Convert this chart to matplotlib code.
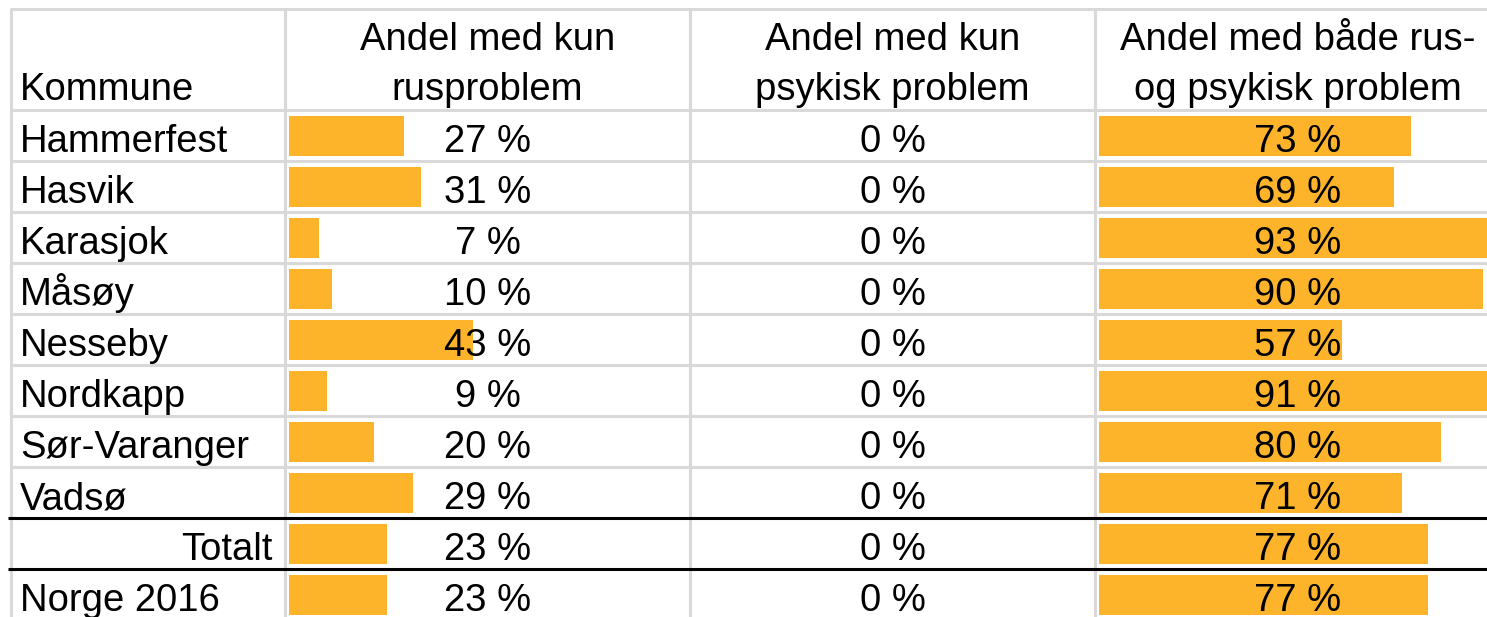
import matplotlib
matplotlib.use("Agg")
import matplotlib.pyplot as plt
import numpy as np

plt.rcParams['font.family'] = ['Liberation Sans', 'DejaVu Sans']

kommuner = ["Hammerfest", "Hasvik", "Karasjok", "Måsøy", "Nesseby",
            "Nordkapp", "Sør-Varanger", "Vadsø", "Totalt", "Norge 2016"]
kun_rus = [27, 31, 7, 10, 43, 9, 20, 29, 23, 23]
kun_psyk = [0, 0, 0, 0, 0, 0, 0, 0, 0, 0]
begge = [73, 69, 93, 90, 57, 91, 80, 71, 77, 77]
headers = ["Kommune", "Andel med kun\nrusproblem", "Andel med kun\npsykisk problem",
           "Andel med både rus-\nog psykisk problem"]

W, H = 1487, 617
fig = plt.figure(figsize=(W / 100, H / 100), dpi=100)
ax = fig.add_axes([0, 0, 1, 1])
ax.set_xlim(0, W)
ax.set_ylim(H, 0)
ax.axis('off')

BAR = '#FDB42A'
GRID = '#D9D9D9'
FS = 27.5
PX_PER_PCT = 4.27

col_edges = [11, 285, 690, 1095, 1500]
header_top, header_bot = 9, 110
row_h = 51
n = len(kommuner)
row_tops = header_bot + row_h * np.arange(n)
row_centers = row_tops + row_h / 2

# grid lines
lw = 2.2
ax.hlines([header_top, header_bot] + list(row_tops[1:8] ) + [row_tops[-1] + row_h],
          col_edges[0] - 1, W, color=GRID, lw=lw, zorder=1)
ax.vlines(col_edges[:4], header_top, H, color=GRID, lw=lw, zorder=1)
ax.hlines([row_tops[8], row_tops[9]], 8, W, color='black', lw=2.2, zorder=4)

# bars
series = [kun_rus, kun_psyk, begge]
for j, vals in enumerate(series):
    left = col_edges[j + 1] + 4
    vals = np.array(vals, dtype=float)
    ax.barh(row_centers, vals * PX_PER_PCT, left=left, height=row_h - 11,
            color=BAR, zorder=2, linewidth=0)
    cx = (col_edges[j + 1] + col_edges[j + 2]) / 2
    for y0, v in zip(row_tops, vals):
        ax.text(cx, y0 + 42, f"{v:.0f} %", ha='center', va='baseline',
                fontsize=FS, zorder=3)

# names
for i, (y0, name) in enumerate(zip(row_tops, kommuner)):
    if name == "Totalt":
        ax.text(273, y0 + 42, name, ha='right', va='baseline', fontsize=FS, zorder=3)
    else:
        ax.text(20, y0 + 42, name, ha='left', va='baseline', fontsize=FS, zorder=3)

# headers
ax.text(20, 100, headers[0], ha='left', va='baseline', fontsize=FS)
for j in range(3):
    cx = (col_edges[j + 1] + col_edges[j + 2]) / 2
    l1, l2 = headers[j + 1].split("\n")
    ax.text(cx, 50, l1, ha='center', va='baseline', fontsize=FS)
    ax.text(cx, 100, l2, ha='center', va='baseline', fontsize=FS)

fig.savefig("out.png", dpi=100)
